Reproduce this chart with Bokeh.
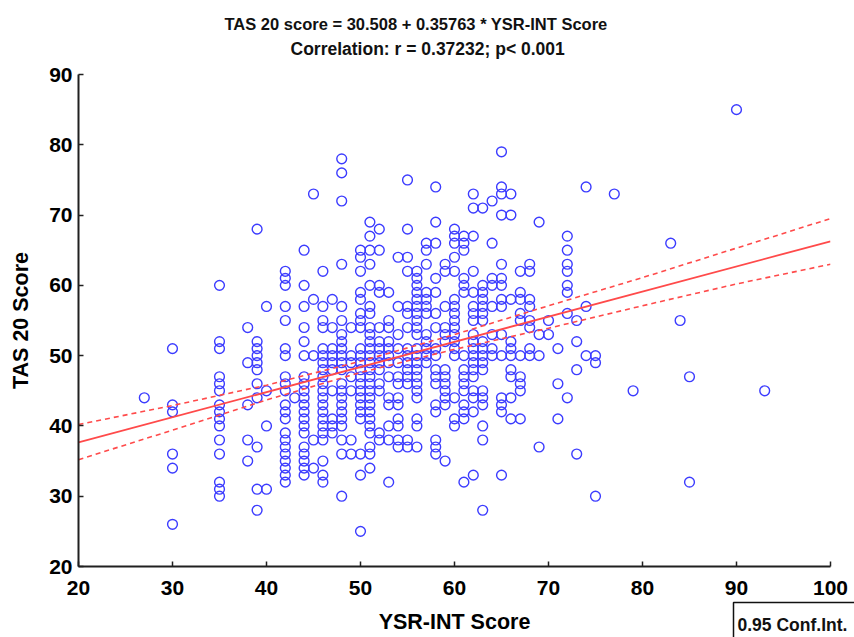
from bokeh.plotting import figure
from bokeh.models import Label, Range1d, FixedTicker
from bokeh.embed import file_html
from bokeh.resources import INLINE

c27=[44]
c30=[51,43,42,36,34,26]
c35=[60,52,51,47,46,45,43,42,41,40,38,36,32,31,30]
c38=[54,49,43,38,35]
c39=[68,52,51,50,49,48,46,44,37,31,28]
c40=[57,45,40,31]
c42=[62,61,60,57,55,51,50,47,46,45,43,42,41,39,38,37,36,35,34,33,32]
c43=[44]
c44=[65,60,57,54,52,50,47,46,45,44,43,42,41,40,39,37,36,35,34,33]
c45=[73,58,50,38,34]
c46=[62,57,55,54,51,50,49,48,47,46,45,44,43,42,41,40,39,38,35,33,32]
c47=[58,54,51,50,49,48,45,41,40,39]
c48=[78,76,72,63,57,55,53,52,51,50,49,48,46,45,44,43,42,41,40,38,36,30]
c49=[54,50,49,47,45,38,36]
c50=[65,64,62,59,58,56,55,54,51,50,49,48,47,46,45,44,43,42,41,36,33,25]
c51=[69,67,65,63,60,57,56,54,53,52,51,50,49,48,47,46,45,44,43,42,41,40,39,37,36,34]
c52=[68,65,60,59,54,52,51,50,49,48,46,45,39,38]
c53=[59,55,54,52,51,50,49,47,44,43,40,38,32]
c54=[64,57,53,51,49,47,46,44,43,41,40,38,37]
c55=[75,68,64,62,57,56,54,51,50,49,48,47,46,38,37]
c56=[62,61,60,59,58,57,56,55,54,53,51,50,49,48,47,46,45,44,41,40,37]
c57=[66,65,63,59,58,57,56,53,52,51,50,49]
c58=[74,69,66,61,59,56,54,51,50,48,47,46,43,42,38,37,36]
c59=[63,62,57,54,53,52,48,47,46,45,44,43,35]
c60=[68,67,66,64,62,58,57,56,55,54,53,52,51,50,44,41,40]
c61=[67,66,65,61,60,59,50,48,47,46,45,43,42,41,32]
c62=[73,71,67,62,59,57,56,55,53,52,51,50,49,48,47,45,44,42,33]
c63=[71,60,59,58,57,56,55,52,51,50,49,48,45,44,43,40,38,28]
c64=[72,66,61,60,57,53,51,50]
c65=[79,74,73,70,63,61,60,58,57,53,50,44,43,42,33]
c66=[73,70,58,52,51,50,48,47,44,41]
c67=[62,59,58,56,55,50,47,46,45,41]
c68=[63,62,58,57,55,54,51,50]
c69=[69,53,50,37]
c70=[55,53]
c71=[51,46,41]
c72=[67,65,63,62,60,59,56,44]
c73=[55,52,48,36]
c74=[74,57,50]
c75=[50,49,30]
c77=[73]
c79=[45]
c83=[66]
c84=[55]
c85=[47,32]
c90=[85]
c93=[45]

columns={27:c27,30:c30,35:c35,38:c38,39:c39,40:c40,42:c42,43:c43,44:c44,45:c45,46:c46,47:c47,48:c48,49:c49,
 50:c50,51:c51,52:c52,53:c53,54:c54,55:c55,56:c56,57:c57,58:c58,59:c59,60:c60,61:c61,62:c62,63:c63,64:c64,
 65:c65,66:c66,67:c67,68:c68,69:c69,70:c70,71:c71,72:c72,73:c73,74:c74,75:c75,77:c77,79:c79,83:c83,84:c84,85:c85,90:c90,93:c93}

fit_x=[20,100]
fit_y=[37.66,66.27]
ci_x=[20,30,40,50,60,70,80,90,100]
ci_upper=[40.2,42.9,45.8,49.2,53.0,57.1,61.1,65.3,69.5]
ci_lower=[35.2,39.4,43.7,47.6,50.9,53.9,57.1,60.2,63.0]

title1="TAS 20 score = 30.508 + 0.35763 * YSR-INT Score"
title2="Correlation: r = 0.37232; p< 0.001"
x_label="YSR-INT Score"
y_label="TAS 20 Score"
legend_text="0.95 Conf.Int."
x_ticks=[20,30,40,50,60,70,80,90,100]
y_ticks=[20,30,40,50,60,70,80,90]

FONT="Liberation Sans"
W,H=854,637
p=figure(width=W,height=H,frame_width=752,frame_height=492,output_backend="svg",toolbar_location=None,
         x_range=Range1d(20,100),y_range=Range1d(20,90),
         min_border_left=78,min_border_right=W-830,min_border_top=74,min_border_bottom=H-566)
p.outline_line_color=None
p.grid.visible=False
p.background_fill_color="white"
for ax,ticks in ((p.xaxis[0],x_ticks),(p.yaxis[0],y_ticks)):
    ax.ticker=FixedTicker(ticks=ticks)
    ax.minor_tick_line_color=None
    ax.major_tick_in=5
    ax.major_tick_out=0
    ax.major_tick_line_color="#202020"
    ax.major_tick_line_width=1.5
    ax.axis_line_color="#202020"
    ax.axis_line_width=2
    ax.major_label_text_font=FONT
    ax.major_label_text_font_style="bold"
    ax.major_label_text_font_size="21px"
    ax.major_label_text_color="black"
    ax.axis_label_text_font=FONT
    ax.axis_label_text_font_style="bold"
    ax.axis_label_text_font_size="21.5px"
    ax.axis_label_text_color="black"
p.xaxis.axis_label=x_label
p.yaxis.axis_label=y_label
p.xaxis.major_label_standoff=14
p.yaxis.major_label_standoff=6
p.xaxis.axis_label_standoff=12
p.yaxis.axis_label_standoff=13

xs=[];ys=[]
for x,vals in columns.items():
    xs+= [x]*len(vals); ys+=vals
p.scatter(xs,ys,marker="circle",size=9.8,fill_color=None,line_color="#3c3cff",line_width=1.4)

red="#ff4a4a"
p.line(fit_x,fit_y,line_color=red,line_width=1.8)
p.line(ci_x,ci_upper,line_color=red,line_width=1.6,line_dash="5 4")
p.line(ci_x,ci_lower,line_color=red,line_width=1.6,line_dash="5 4")

p.add_layout(Label(x=212,y=16,x_units="screen",y_units="screen",text=title2,text_font=FONT,text_font_style="bold",
                   text_font_size="17.5px",text_color="#111111"),"above")
p.add_layout(Label(x=146,y=22,x_units="screen",y_units="screen",text=title1,text_font=FONT,text_font_style="bold",
                   text_font_size="16.5px",text_color="#111111"),"above")

p.add_layout(Label(x=655,y=34,x_units="screen",y_units="screen",text=legend_text,text_font=FONT,
    text_font_style="bold",text_font_size="17.5px",text_color="#111111",
    padding=(4,30,12,5),border_line_color="#111111",border_line_width=1.5),"below")

open("out.html","w").write(file_html(p,INLINE))
